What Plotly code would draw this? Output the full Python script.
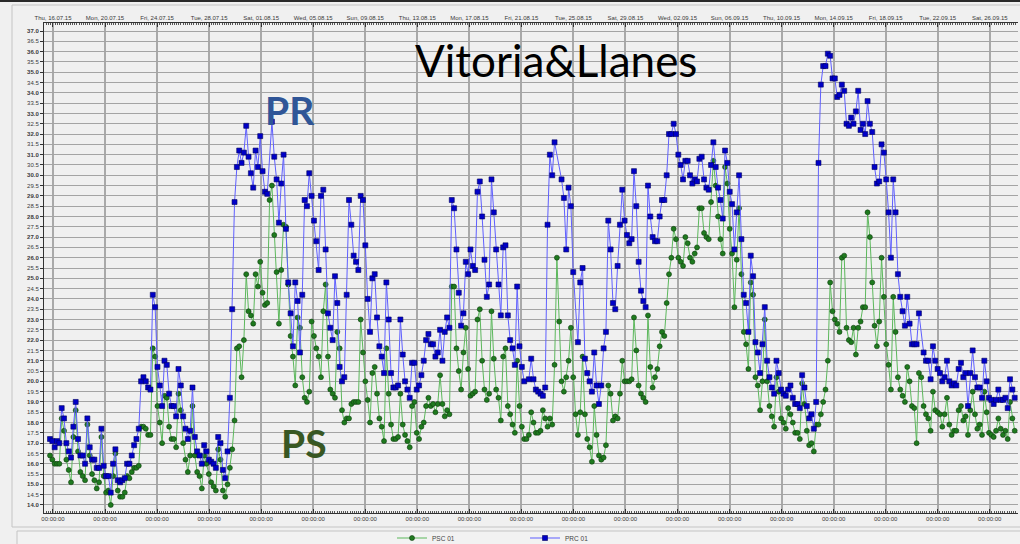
import plotly.graph_objects as go
import pandas as pd

# ---------------- data ----------------
start_time = "2015-07-15 18:30"
end_time = "2015-09-27 22:00"

prc_part1 = [
    17.2, 17.1, 16.8, 17.1, 17.0, 18.7, 18.2, 17.0, 16.6, 16.3,
    17.8, 19.0, 17.2, 16.4, 16.4, 16.0, 18.2, 16.8, 16.2, 16.2,
    15.8, 15.8, 17.7, 15.9, 15.4, 15.4, 14.6, 16.0, 16.7, 15.2,
    15.1, 15.2, 15.3, 16.0, 16.0, 16.4, 16.9, 17.2, 17.7, 20.0,
    20.2, 20.0, 19.7, 19.6, 24.2, 23.6, 20.7, 19.8, 18.8, 21.0,
    20.8, 19.4, 18.8, 18.8, 18.3, 20.6, 19.8, 18.3, 17.7, 17.2,
    17.6, 19.7, 17.3, 16.6, 16.4, 16.0, 16.9, 16.6, 16.2, 16.1,
    16.0, 15.8, 17.3, 17.0, 15.7, 15.3, 16.6, 19.2, 23.5, 28.7,
    30.4, 31.2, 30.6, 31.1, 32.4, 30.9, 30.1, 29.4, 31.2, 30.4,
    31.9, 30.2, 29.2, 29.1, None, 32.6, 30.9, 29.8, 27.7, 29.6,
    31.0, 27.4, 24.8, 23.3, 21.7, 24.8, 23.9, 21.4, 24.2, 28.8,
    28.5, 30.1, 29.0, 27.8, 26.8, 25.4, 29.0, 29.3, 26.4, 23.3,
    22.6, 22.0, 25.1, 23.8, 20.7, 20.0, 20.2, 24.2, 28.8, 27.6,
    26.1, 25.8, 25.4,
]
prc_part2 = [
    29.0, 28.8, 26.6, 24.0, 22.4, 25.0, 25.2, 23.1, 21.7, 21.2,
    20.4, 24.8, 23.0, 20.4, 19.7, 19.7, 19.8, 23.0, 21.3, 20.0,
    19.6, 19.2, 20.9, 20.9, 19.6, 19.8, 20.3, 21.0, 22.0, 22.3,
    21.8, 21.8, 21.2, 21.4, 22.5, 21.0, 22.4, 23.1, 22.6, 28.8,
    28.4, 26.4, 24.3, 22.7, 23.3, 25.8, 25.2, 26.4, 25.6, 25.4,
    29.2, 29.7, 28.0, 25.9, 24.1, 24.7, 29.8, 28.2, 26.4, 24.7,
    23.2, 26.5, 26.6, 23.2, 22.0, 21.6, 20.8, 24.6, 21.7, 20.7,
    20.0, None, 20.1, 21.1, 20.1, 19.6, 19.5, 19.4, 19.3, 19.7,
    27.6, 31.0, 30.0, 31.6, None, None, 29.8, 28.9, 26.4, 29.4,
    28.5, 25.3, None, 21.9, 24.8, 25.5, 21.1, 20.4, 20.0, 19.5,
    21.4, 19.8, 18.9, 19.8, 21.6, 22.4, 27.8, 26.4, 23.8, 23.5,
    25.6, 27.6, 29.3, 27.8, 27.1, 26.7, 26.9, 30.2, 28.5, 25.8,
    24.4, 23.9, 23.6, 29.5, 28.0, 27.0, 26.8, 26.8, 28.0, 28.8,
    28.8, 30.0, 32.0, 32.0, 32.5, 32.0, 31.0,
]
prc_part3 = [
    30.5, 29.8, 30.7, 30.7, 30.0, 29.6, 29.8, 29.7, 30.8, 30.9,
    29.8, 29.4, 29.3, 30.5, 31.6, 30.4, 29.4, 28.8, 27.9, 31.2,
    30.6, 29.2, 28.6, 26.4, 28.2, 30.0, 26.9, 24.2, 23.8, 22.4,
    26.1, 25.1, 21.9, 21.4, 20.4, 21.8, 23.6, 21.0, 20.2, 19.7,
    19.4, 21.0, 20.4, 19.6, 19.4, 19.3, 19.6, 19.8, 19.2, 18.9,
    18.9, 18.7, 20.3, 19.7, 18.8, 18.2, 18.4, 17.7, 19.0, 30.6,
    34.4, 35.3, 35.3, 35.9, 35.8, 34.7, 34.7, 33.8, 33.9, 34.4,
    34.1, 32.5, 32.4, 32.8, 32.5, 33.1, 34.1, 32.2, 32.5, 32.0,
    33.6, 32.5, 32.1, 30.4, 29.6, 29.7, 31.5, 31.1, 29.8, 28.2,
    26.0, 29.8, 28.2, 25.2, 24.1, 23.4, 22.7, 24.1, 22.8, 21.8,
    21.8, 21.8, 23.3, None, 21.4, 21.0, 21.0, 20.1, 21.7, 21.0,
    20.6, 20.4, 20.0, 20.2, 21.0, 20.0, 19.8, 19.9, 19.8, 20.6,
    20.9, 20.2, 20.4, 18.8, 20.4, 21.5, 20.2, 19.7, 19.7, 19.2,
    21.0, 20.0, 19.2, 19.1, 18.9, 19.1, 19.6, 19.1, 19.1, 19.2,
    18.7, 20.1, 19.6, 19.2,
]

psc_part1 = [
    16.4, 16.2, 16.0, 16.0, 16.0, 18.2, 17.6, 16.2, 15.7, 15.1,
    17.3, 18.6, 16.6, 15.6, 15.4, 15.2, 17.9, 16.4, 15.5, 15.2,
    14.8, 15.1, 17.3, 15.4, 14.6, 14.7, 14.0, 15.4, 16.5, 14.7,
    14.4, 14.4, 14.6, 15.4, 15.3, 15.6, 15.8, 15.8, 15.9, 17.8,
    17.8, 17.7, 17.4, 17.4, 21.6, 21.2, 18.8, 18.0, 17.0, 19.3,
    19.2, 17.8, 17.2, 17.2, 16.8, 19.4, 18.6, 17.0, 16.2, 15.6,
    16.4, 18.8, 16.4, 15.6, 15.4, 14.8, 16.4, 16.0, 15.5, 15.1,
    14.9, 14.7, 16.7, 16.2, 14.7, 14.4, 15.0, 15.8, 16.7, 18.1,
    21.6, 21.7, 20.2, 22.0, 25.2, 23.4, 23.2, 22.8, 25.2, 24.6,
    25.8, 24.3, 23.7, 23.8, 28.8, 29.5, 27.1, 25.3, 22.8, 25.4,
    27.6, 27.5, 24.7, 22.2, 21.2, 19.8, 23.1, 22.6, 20.2, 19.2,
    19.0, 19.5, 22.9, 22.2, 21.6, 21.2, 20.2, 23.4, 24.7, 21.2,
    19.6, 19.4, 19.2, 22.4, 21.6, 18.6, 18.0, 18.2, 18.2, 18.9,
    19.0, 19.0, 19.0,
]
psc_part2 = [
    23.0, 21.4, 20.0, 19.1, 18.0, 20.4, 20.7, 19.4, 18.2, 17.8,
    17.1, 21.6, 19.4, 17.9, 17.2, 17.2, 17.3, 19.4, 17.9, 17.4,
    17.1, 16.8, 18.8, 19.0, 17.5, 17.2, 17.8, 18.0, 18.8, 19.2,
    18.8, 18.9, 18.5, 18.9, 20.3, 18.9, 18.3, 18.6, 18.4, 24.6,
    24.6, 21.6, 20.5, 19.6, 21.4, 22.6, 20.6, 19.3, 19.4, 19.5,
    23.0, 23.5, 21.0, 19.6, 19.1, 19.4, 23.4, 21.1, 19.6, 19.2,
    18.1, 21.2, 21.6, 18.8, 18.4, 17.9, 17.5, 21.0, 18.8, 17.8,
    17.2, 17.2, 17.4, 18.5, 18.0, 17.5, 17.5, 17.6, 18.6, 18.2,
    17.8, 18.2, 17.9, 20.8, 26.0, 22.9, 20.0, 19.5, 20.2, 21.0,
    22.6, 20.2, 18.4, 17.4, 18.5, 21.2, 18.4, 17.2, 16.8, 16.1,
    18.8, 17.4, 16.4, 16.2, 16.3, 16.9, 19.8, 19.4, 18.1, 18.3,
    18.2, 19.4, 21.0, 20.0, 20.0, 20.0, 20.1, 23.1, 21.5, 19.8,
    19.4, 19.2, 19.0, 23.2, 20.7, 19.7, 20.2, 20.6, 21.7, 22.4,
    22.2, 23.8, 25.2, 26.0, 27.4, 26.9, 26.0,
]
psc_part3 = [
    25.8, 25.6, 27.0, 26.7, 26.0, 25.8, 26.2, 26.5, 28.4, 28.4,
    27.2, 27.0, 26.9, 28.7, 30.7, 29.5, 28.0, 26.9, 26.2, 30.4,
    29.6, 27.4, 26.2, 23.6, 25.9, 28.4, 25.2, 22.4, 21.8, 20.6,
    24.8, 24.2, 20.2, 19.8, 18.6, 20.0, 23.0, 20.0, 18.8, 18.3,
    17.8, 20.2, 19.5, 18.2, 18.0, 17.7, 18.7, 18.4, 18.0, 17.5,
    17.5, 17.2, 19.9, 18.9, 17.6, 16.9, 17.0, 16.6, 17.9, 17.9,
    18.4, 19.0, 19.6, 21.0, 24.8, 23.4, 23.0, 22.8, 22.4, 26.0,
    26.1, 22.6, 22.0, 21.9, 22.6, 21.3, 22.6, 22.9, 23.6, 23.6,
    28.2, 27.0, 24.8, 22.7, 21.7, 22.9, 26.0, 24.1, 21.8, 20.8,
    19.6, 24.1, 22.4, 20.2, 19.6, 19.3, 19.0, 20.7, 20.0, 18.8,
    18.7, 17.0, 20.4, 20.2, 18.8, 18.4, 18.2, 17.6, 19.5, 18.6,
    18.5, 18.4, 17.8, 18.4, 19.2, 17.9, 17.4, 17.6, 17.6, 18.6,
    18.8, 18.1, 18.3, 17.4, 18.6, 19.5, 18.4, 17.7, 17.9, 17.4,
    19.5, 18.5, 17.5, 17.4, 17.3, 17.6, 18.2, 17.7, 17.4, 17.6,
    17.2, 19.0, 18.2, 17.6,
]

prc_01 = prc_part1 + prc_part2 + prc_part3
psc_01 = psc_part1 + psc_part2 + psc_part3

series_names = ["PSC 01", "PRC 01"]
chart_title = "Vitoria&Llanes"

tick_dates = [
    "2015-07-16", "2015-07-20", "2015-07-24", "2015-07-28", "2015-08-01",
    "2015-08-05", "2015-08-09", "2015-08-13", "2015-08-17", "2015-08-21",
    "2015-08-25", "2015-08-29", "2015-09-02", "2015-09-06", "2015-09-10",
    "2015-09-14", "2015-09-18", "2015-09-22", "2015-09-26",
]
top_tick_labels = [
    "Thu, 16.07.15", "Mon, 20.07.15", "Fri, 24.07.15", "Tue, 28.07.15",
    "Sat, 01.08.15", "Wed, 05.08.15", "Sun, 09.08.15", "Thu, 13.08.15",
    "Mon, 17.08.15", "Fri, 21.08.15", "Tue, 25.08.15", "Sat, 29.08.15",
    "Wed, 02.09.15", "Sun, 06.09.15", "Thu, 10.09.15", "Mon, 14.09.15",
    "Fri, 18.09.15", "Tue, 22.09.15", "Sat, 26.09.15",
]
bottom_tick_labels = ["00:00:00"] * len(tick_dates)

y_tick_values = [14.0 + 0.5 * i for i in range(47)]
y_tick_labels = [
    ("<b>%.1f</b>" % v) if float(v).is_integer() else ("%.1f" % v)
    for v in y_tick_values
]

x_range = ["2015-07-15 07:25", "2015-09-28 04:05"]
y_range = [13.61, 37.39]

# ---------------- figure ----------------
times = pd.date_range(start_time, end_time, periods=len(prc_01))

W, H = 1020, 544
ML, MR, MT, MB = 44, 2, 23, 31
PW, PH = W - ML - MR, H - MT - MB


def px(x):
    return (x - ML) / PW


def py(y):
    return (H - MB - y) / PH


fig = go.Figure()

fig.add_trace(go.Scatter(
    x=times, y=psc_01, name=series_names[0], mode="lines+markers",
    connectgaps=True,
    line=dict(color="#5cb85c", width=1),
    marker=dict(symbol="circle", size=5, color="#1f7a1f",
                line=dict(color="#0d3d0d", width=0.6)),
))
fig.add_trace(go.Scatter(
    x=times, y=prc_01, name=series_names[1], mode="lines+markers",
    connectgaps=True,
    line=dict(color="#5f5fff", width=1),
    marker=dict(symbol="square", size=5, color="#0000c8",
                line=dict(color="#000060", width=0.6)),
))
# carrier for the top date axis
fig.add_trace(go.Scatter(
    x=times, y=psc_01, xaxis="x2", mode="lines", line=dict(width=0),
    opacity=0, showlegend=False, hoverinfo="skip",
))

tick_font = dict(family="Liberation Sans", size=6, color="#3a3a3a")

fig.update_layout(
    width=W, height=H,
    margin=dict(l=ML, r=MR, t=MT, b=MB, pad=0, autoexpand=False),
    paper_bgcolor="#f0f0f0",
    plot_bgcolor="#f0f0f0",
    showlegend=True,
    legend=dict(
        orientation="h", x=px(392), xanchor="left", y=py(538), yanchor="middle",
        font=dict(family="Liberation Sans", size=6.5, color="#444"),
        bgcolor="rgba(0,0,0,0)", itemwidth=30,
        entrywidth=88, entrywidthmode="pixels",
    ),
    xaxis=dict(
        type="date", range=x_range, automargin=False,
        tickmode="array", tickvals=tick_dates, ticktext=bottom_tick_labels,
        showgrid=True, gridcolor="#a9a9a9", gridwidth=1.6,
        showline=True, linecolor="#333", linewidth=1,
        ticks="inside", ticklen=4, tickcolor="#333",
        minor=dict(dtick=4 * 3600 * 1000, ticks="inside", ticklen=2,
                   tickcolor="#555", showgrid=False),
        tickfont=tick_font, zeroline=False,
    ),
    xaxis2=dict(
        type="date", range=x_range, overlaying="x", side="top", anchor="y",
        automargin=False,
        tickmode="array", tickvals=tick_dates, ticktext=top_tick_labels,
        showgrid=False,
        showline=True, linecolor="#333", linewidth=1,
        ticks="inside", ticklen=4, tickcolor="#333",
        minor=dict(dtick=4 * 3600 * 1000, ticks="inside", ticklen=2,
                   tickcolor="#555", showgrid=False),
        tickfont=tick_font, zeroline=False,
    ),
    yaxis=dict(
        range=y_range, tickmode="array", tickvals=y_tick_values,
        ticktext=y_tick_labels, automargin=False,
        showgrid=True, gridcolor="#a4a4a4", gridwidth=1,
        showline=True, linecolor="#333", linewidth=1,
        ticks="outside", ticklen=3, tickcolor="#333",
        tickfont=tick_font, zeroline=False,
    ),
)

# frames of the window
shapes = [
    dict(type="rect", xref="paper", yref="paper", x0=px(0), x1=px(W),
         y0=py(0), y1=py(2), fillcolor="#2a2a2a", line=dict(width=0)),
    dict(type="rect", xref="paper", yref="paper", x0=px(12), x1=px(W + 5),
         y0=py(527), y1=py(5), fillcolor="rgba(0,0,0,0)",
         line=dict(color="#c4c4c4", width=1), layer="below"),
    dict(type="rect", xref="paper", yref="paper", x0=px(17), x1=px(W + 5),
         y0=py(H + 5), y1=py(531), fillcolor="#f2f2f2",
         line=dict(color="#c4c4c4", width=1), layer="below"),
]
fig.update_layout(shapes=shapes)

annotations = [
    dict(text=chart_title, x=px(556), y=py(60), xref="paper", yref="paper",
         showarrow=False, xanchor="center", yanchor="middle",
         font=dict(family="Lato", size=44, color="#000000")),
    dict(text="<b>PR</b>", x=px(290), y=py(110), xref="paper", yref="paper",
         showarrow=False, xanchor="center", yanchor="middle",
         font=dict(family="Lato", size=39, color="#2f5597")),
    dict(text="<b>PS</b>", x=px(304), y=py(443), xref="paper", yref="paper",
         showarrow=False, xanchor="center", yanchor="middle",
         font=dict(family="Lato", size=39, color="#385723")),
]
fig.update_layout(annotations=annotations)

fig.write_html(
    "out.html",
    config={"displayModeBar": False},
    post_script="document.body.style.margin='0';document.body.style.overflow='hidden';",
)
